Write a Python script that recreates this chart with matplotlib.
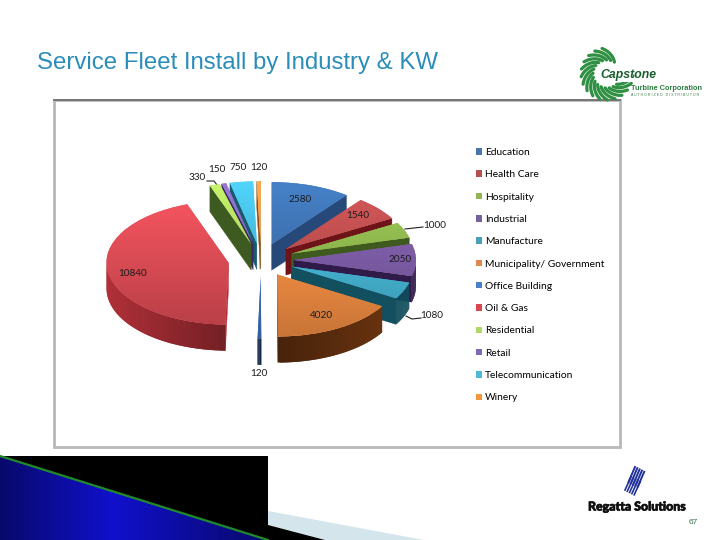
import numpy as np
import matplotlib
matplotlib.use('Agg')
import matplotlib.pyplot as plt
import matplotlib.patheffects as pe
from matplotlib.patches import Polygon, Rectangle

# chart values
categories = ['Education', 'Health Care', 'Hospitality', 'Industrial', 'Manufacture',
              'Municipality/ Government', 'Office Building', 'Oil & Gas', 'Residential',
              'Retail', 'Telecommunication', 'Winery']
values = [2580, 1540, 1000, 2050, 1080, 4020, 120, 10840, 330, 150, 750, 120]

top_colors = ['#3f74b4', '#c04f50', '#8fb84e', '#7d5ca6', '#45b2d0', '#ec8a42',
              '#3f70b8', '#dc4c55', '#b4dc62', '#8a6cc0', '#48bfe2', '#f09a40']
side_colors = ['#27497a', '#6e1418', '#3f5a1e', '#2f1a4a', '#12505f', '#6d3510',
               '#1f3f70', '#b03038', '#3d5a20', '#3a2a60', '#1a5a70', '#8a5015']
legend_colors = ['#4a74ac', '#b4504e', '#94b458', '#7560a0', '#4aa0b8', '#e08850',
                 '#4a80c8', '#d84850', '#b0d868', '#8068b8', '#50b8d8', '#f09840']

# where the value labels sit on the page, in pixels
label_xy = [(300, 199), (358, 216), (435, 225), (400, 259), (432, 316), (321, 316),
            (259, 373), (133, 274), (197, 177), (217, 169), (238, 168), (259, 167)]

TITLE_BLUE = '#2b8dba'
CHART_FONT = 'Lato'
DEPTH = 0.42
CX, CY, RX, RY = 261, 260, 122, 62

fig = plt.figure(figsize=(7.2, 5.4), dpi=100, facecolor='white')

# page axes in pixel units for the slide furniture
page = fig.add_axes([0, 0, 1, 1], zorder=0)
page.set_xlim(0, 720)
page.set_ylim(540, 0)
page.axis('off')

page.text(37, 63, 'Service Fleet Install by Industry & KW', color=TITLE_BLUE, fontsize=17.3,
          family='Liberation Sans', va='center', ha='left')

# chart frame
page.add_patch(Rectangle((54, 100), 566, 347, fc='white', ec='#b8b8b8', lw=2))
page.plot([54, 620], [100, 100], color='#707070', lw=1.3)

# bottom left banner
page.add_patch(Rectangle((0, 456), 268, 84, fc='black', ec='none'))
tri = Polygon([(0, 456), (268, 540), (0, 540)], closed=True, fc='none', ec='none')
page.add_patch(tri)
grad = np.interp(np.linspace(0, 1, 268), [0, 0.42, 1], [0.42, 0.80, 0.42])
img = np.zeros((1, 268, 3))
img[0, :, 2] = grad
img[0, :, 0] = img[0, :, 1] = grad * 0.08
banner = page.imshow(img, extent=(0, 268, 540, 456), aspect='auto', zorder=2)
banner.set_clip_path(tri)
page.plot([0, 268], [456, 540], color='#1f8a2c', lw=1.6, zorder=3)
page.add_patch(Polygon([(268, 511), (424, 540), (325, 540), (268, 525)], fc='#d4e5ec', ec='none'))
page.add_patch(Polygon([(268, 525), (325, 540), (268, 540)], fc='black', ec='none'))
page.set_xlim(0, 720)
page.set_ylim(540, 0)

# Capstone logo, curved blades round a ring
for a in np.arange(58, 322, 17):
    t = np.radians(a)
    s = np.linspace(0, 1, 10)
    r = 14 + 12 * s
    ang = t + 0.75 * s
    page.plot(607 + r * np.cos(ang), 74 - r * np.sin(ang), color='#2f8f42', lw=2.3,
              solid_capstyle='round')
page.add_patch(Rectangle((599, 67), 34, 15, fc='white', ec='none', zorder=2.5))
page.text(600, 75, 'Capstone', color='#1a5f30', fontsize=8.8, style='italic', weight='bold',
          family='Liberation Sans', va='center', zorder=3)
page.text(631, 88, 'Turbine Corporation', color='#2c7d40', fontsize=5.3, weight='bold',
          family='Liberation Sans', va='center')
page.text(631, 95, 'A U T H O R I Z E D   D I S T R I B U T O R', color='#3b7d4d', fontsize=2.6,
          family='Liberation Sans', va='center')

# Regatta logo
for off in np.arange(0, 5):
    page.plot([628.5 + 2.3 * off, 635 + 2.3 * off], [482 + 1.2 * off, 467 + 1.2 * off],
              color='#22329a', lw=1.4)
    page.plot([625 + 2.3 * off, 631 + 2.3 * off], [490 + 1.2 * off, 477 + 1.2 * off],
              color='#22329a', lw=1.2)
regatta = page.text(588, 507, 'Regatta Solutions', color='#111111', fontsize=8.9, weight='black',
                    family='Lato', va='center')
regatta.set_path_effects([pe.withStroke(linewidth=0.5, foreground='#111111')])
page.text(693, 522, '67', color='#35704a', fontsize=6, family='Liberation Sans',
          va='center', ha='center')

# pie axes: one data unit is RX pixels across and RY pixels up
xspan, yspan = 1.6, 2.0
pie_ax = fig.add_axes([(CX - xspan * RX) / 720, (540 - CY - yspan * RY) / 540,
                       2 * xspan * RX / 720, 2 * yspan * RY / 540], zorder=1)
explode = [0.27] * len(values)
wedges, _ = pie_ax.pie(values, explode=explode, colors=top_colors, startangle=90,
                       counterclock=False, radius=1)
pie_ax.patch.set_alpha(0)
pie_ax.axis('off')


def shade(color, f):
    rgb = np.array(matplotlib.colors.to_rgb(color)) * f
    return tuple(np.clip(rgb, 0, 1))


def draw_sides(w, color, z):
    cx, cy = w.center
    # cut faces first
    for th, visible in ((w.theta1, np.cos(np.radians(w.theta1)) > 0),
                        (w.theta2, np.cos(np.radians(w.theta2)) < 0)):
        if visible:
            x = cx + np.cos(np.radians(th))
            y = cy + np.sin(np.radians(th))
            pie_ax.add_patch(Polygon([(cx, cy), (x, y), (x, y - DEPTH), (cx, cy - DEPTH)],
                                     fc=color, ec=color, lw=0.3, zorder=z))
    # outer rim in short pieces, lighter at the sides and dark at the front
    th = np.radians(np.linspace(w.theta1, w.theta2, 60))
    step = th[1] - th[0]
    for a, b in zip(th[:-1], th[1:]):
        mid = (a + b) / 2
        if np.sin(mid) >= 0:
            continue
        c = shade(color, 0.65 + 0.35 * abs(np.cos(mid)))
        # run each piece over the next one so no seams show
        b2 = min(b + step, th[-1])
        xa, ya = cx + np.cos(a), cy + np.sin(a)
        xb, yb = cx + np.cos(b2), cy + np.sin(b2)
        pie_ax.add_patch(Polygon([(xa, ya), (xb, yb), (xb, yb - DEPTH), (xa, ya - DEPTH)],
                                 fc=c, ec='none', zorder=z))


def draw_top(w, color, z):
    # soft top to bottom shading on the slice face
    w.set_zorder(z)
    cx, cy = w.center
    ramp = np.linspace(0.84, 1.12, 64)[:, None, None]
    face = np.clip(np.array(matplotlib.colors.to_rgb(color))[None, None, :] * ramp, 0, 1)
    im = pie_ax.imshow(face, origin='lower', aspect='auto', zorder=z + 0.1,
                       extent=(cx - 1.05, cx + 1.05, cy - 1.05, cy + 1.05))
    im.set_clip_path(w)


# back slices first, so the front ones cover them
mids = [np.sin(np.radians((w.theta1 + w.theta2) / 2)) for w in wedges]
order = np.argsort(mids)[::-1]
for rank, i in enumerate(order):
    draw_sides(wedges[i], side_colors[i], 2 + rank)
    draw_top(wedges[i], top_colors[i], 2.5 + rank)

pie_ax.set_aspect('auto')
pie_ax.set_xlim(-xspan, xspan)
pie_ax.set_ylim(-yspan, yspan)

# value labels and the three leader lines
for val, (x, y) in zip(values, label_xy):
    pie_ax.text(x, y, str(val), transform=page.transData, fontsize=7.2, family=CHART_FONT,
                color='#1c1c1c', ha='center', va='center', zorder=50, clip_on=False)
page.plot([405, 423], [229, 227], color='#222222', lw=0.8, zorder=6)
page.plot([406, 412, 421], [316, 319, 318], color='#222222', lw=0.8, zorder=6)
page.plot([207, 214, 217], [181, 181, 185], color='#222222', lw=0.8, zorder=6)

# legend
handles = [Rectangle((0, 0), 1, 1, fc=c, ec='none') for c in legend_colors]
fig.legend(handles, categories, loc='upper left', bbox_to_anchor=(476 / 720, 1 - 148 / 540),
           frameon=False, labelspacing=1.295, handlelength=0.6, handleheight=0.6,
           handletextpad=0.3, borderpad=0, borderaxespad=0,
           prop={'family': CHART_FONT, 'size': 7.4})

fig.savefig('out.png', dpi=100)
